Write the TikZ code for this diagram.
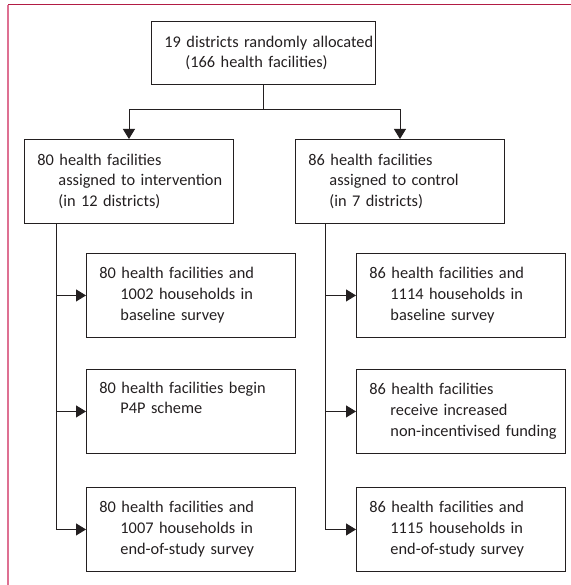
\documentclass[tikz,border=0pt]{standalone}
\usepackage{fontspec}
\setmainfont{Carlito}
\usetikzlibrary{positioning,arrows.meta}
\definecolor{ink}{RGB}{35,31,32}
\definecolor{rulered}{RGB}{178,28,68}
\definecolor{rulepink}{RGB}{222,112,146}
\tikzset{>={Triangle[length=10bp,width=12bp]}}
\tikzset{
  box/.style={draw=ink,line width=0.9bp,anchor=north west,inner xsep=13bp,inner ysep=0pt,
    text width=183bp,minimum height=84bp,align=left,text=ink,
    font=\fontsize{16.4}{21}\selectfont},
  link/.style={draw=ink,line width=0.9bp}
}
% first line and indented lines, never broken
\newcommand*{\fline}[1]{\mbox{#1}}
\newcommand*{\iline}[1]{\hspace*{21bp}\mbox{#1}}

\begin{document}
\begin{tikzpicture}[x=1bp,y=-1bp]
\useasboundingbox (0,0) rectangle (571,585);
% frame
\draw[rulered,line width=1bp] (8,5) -- (571,5);
\draw[rulepink,line width=1.4bp] (8,5) -- (8,585);
% boxes
\node[box,text width=198bp,minimum height=63bp] (alloc) at (151,21)
  {\fline{19 districts randomly allocated}\\\iline{(166 health facilities)}};
\node[box] (interv) at (24,139)
  {\fline{80 health facilities}\\\iline{assigned to intervention}\\\iline{(in 12 districts)}};
\node[box] (ctrl) at (295,139)
  {\fline{86 health facilities}\\\iline{assigned to control}\\\iline{(in 7 districts)}};
\node[box] (ibase) at (86,253)
  {\fline{80 health facilities and}\\\iline{1002 households in}\\\iline{baseline survey}};
\node[box] (ip4p) at (86,369)
  {\fline{80 health facilities begin}\\\iline{P4P scheme}\\\strut};
\node[box] (iend) at (86,487)
  {\fline{80 health facilities and}\\\iline{1007 households in}\\\iline{end-of-study survey}};
\node[box] (cbase) at (356,253)
  {\fline{86 health facilities and}\\\iline{1114 households in}\\\iline{baseline survey}};
\node[box] (cfund) at (356,369)
  {\fline{86 health facilities}\\\iline{receive increased}\\\iline{non-incentivised funding}};
\node[box] (cend) at (356,487)
  {\fline{86 health facilities and}\\\iline{1115 households in}\\\iline{end-of-study survey}};
% split
\draw[link] (alloc.south) -- ++(0,25) coordinate (split);
\draw[link,->] (split) -| (interv.north);
\draw[link,->] (split) -| (ctrl.north);
% trunks
\coordinate (itrunk) at ([xshift=32bp]interv.south west);
\coordinate (ctrunk) at ([xshift=30bp]ctrl.south west);
\draw[link,->] (itrunk) |- (iend.west);
\draw[link,->] (itrunk |- ibase.west) -- (ibase.west);
\draw[link,->] (itrunk |- ip4p.west) -- (ip4p.west);
\draw[link,->] (ctrunk) |- (cend.west);
\draw[link,->] (ctrunk |- cbase.west) -- (cbase.west);
\draw[link,->] (ctrunk |- cfund.west) -- (cfund.west);
\end{tikzpicture}
\end{document}
